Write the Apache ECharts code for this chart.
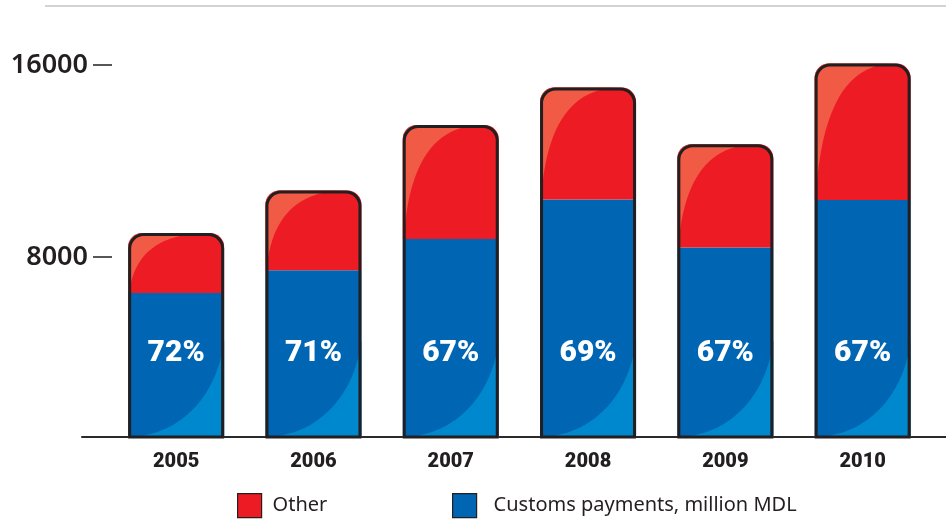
<!DOCTYPE html>
<html>
<head>
<meta charset="utf-8">
<script src="https://cdn.jsdelivr.net/npm/echarts@6/dist/echarts.min.js"></script>
<style>
  html, body { margin: 0; padding: 0; background: #ffffff; }
  #chart { width: 946px; height: 524px; }
</style>
</head>
<body>
<div id="chart"></div>
<script>
// ---- data ----
const years = ['2005', '2006', '2007', '2008', '2009', '2010'];
const customs = [6500, 7450, 8750, 10400, 8400, 10370];   // Customs payments, million MDL
const other = [2500, 3320, 4750, 4660, 4300, 5690];       // Other
const shares = [72, 71, 67, 69, 67, 67];                  // printed share of customs, %
const yTicks = [8000, 16000];
const seriesNames = ['Other', 'Customs payments, million MDL'];

// ---- style constants ----
const Y_MIN = 500, Y_MAX = 16500;
const BAR_W = 96, RAD = 14;
const RED = '#ed1c24', RED_HI = '#f15a45';
const BLUE = '#0066b3', BLUE_HI = '#0088cf';
const INK = '#231f20';
const COND = 'Roboto, "Liberation Sans", sans-serif';

const totals = customs.map((c, i) => c + other[i]);

function cubic(p0, p1, p2, p3, t) {
  const u = 1 - t;
  return [
    u*u*u*p0[0] + 3*u*u*t*p1[0] + 3*u*t*t*p2[0] + t*t*t*p3[0],
    u*u*u*p0[1] + 3*u*u*t*p1[1] + 3*u*t*t*p2[1] + t*t*t*p3[1]
  ];
}

function renderHighlights(params, api) {
  const i = api.value(0), c = api.value(1), t = api.value(2);
  const top = api.coord([i, t]);
  const mid = api.coord([i, c]);
  const base = api.coord([i, Y_MIN]);
  const cx = top[0];
  const L = cx - BAR_W / 2, R = cx + BAR_W / 2;
  const yt = top[1], ym = mid[1], yb = base[1];
  const H = ym - yt;

  // red gloss (upper-left)
  const red = [[L, ym], [L, yt + RAD]];
  for (let k = 1; k <= 10; k++) {
    const a = Math.PI + (Math.PI / 2) * k / 10;
    red.push([L + RAD + RAD * Math.cos(a), yt + RAD + RAD * Math.sin(a)]);
  }
  const r0 = [L + 1, ym], r1 = [L + 6, yt + 0.3 * H], r2 = [L + 34, yt + 1], r3 = [L + 78, yt];
  for (let k = 24; k >= 0; k--) red.push(cubic(r0, r1, r2, r3, k / 24));

  // blue gloss (lower-right)
  const b0 = [R, yb - 97], b1 = [R - 6, yb - 45], b2 = [R - 40, yb - 3], b3 = [L + 3, yb];
  const blue = [];
  for (let k = 0; k <= 24; k++) blue.push(cubic(b0, b1, b2, b3, k / 24));
  blue.push([R, yb]);

  return {
    type: 'group',
    children: [
      { type: 'polygon', shape: { points: red }, style: { fill: RED_HI } },
      { type: 'polygon', shape: { points: blue }, style: { fill: BLUE_HI } }
    ]
  };
}

const chart = echarts.init(document.getElementById('chart'), null, { renderer: 'canvas' });

chart.setOption({
  animation: false,
  backgroundColor: '#ffffff',
  graphic: [
    { type: 'line', shape: { x1: 45, y1: 6, x2: 946, y2: 6 }, style: { stroke: '#c4c4c4', lineWidth: 1.5 }, silent: true }
  ],
  legend: [
    {
      data: [seriesNames[0]], left: 237, top: 493, padding: 0,
      itemWidth: 24, itemHeight: 24, icon: 'rect',
      itemStyle: { borderColor: INK, borderWidth: 1.2 },
      textStyle: { fontFamily: 'Noto Sans', fontSize: 20, color: INK, padding: [0, 0, 0, 6] },
      selectedMode: false
    },
    {
      data: [seriesNames[1]], left: 452, top: 493, padding: 0,
      itemWidth: 24, itemHeight: 24, icon: 'rect',
      itemStyle: { borderColor: INK, borderWidth: 1.2 },
      textStyle: { fontFamily: 'Noto Sans', fontSize: 20, color: INK, padding: [0, 0, 0, 12] },
      selectedMode: false
    }
  ],
  grid: [
    { left: 107.5, right: 14.7, top: 53, bottom: 87 },
    { left: 82, right: 0, top: 53, bottom: 87 }
  ],
  xAxis: [
    {
      type: 'category', gridIndex: 0, data: years,
      axisLine: { show: false }, axisTick: { show: false },
      axisLabel: {
        margin: 15, color: INK, fontFamily: COND,
        fontWeight: 900, fontSize: 20
      }
    },
    {
      type: 'value', gridIndex: 1, min: 0, max: 1,
      axisLine: { show: true, onZero: false, lineStyle: { color: '#2a2a2a', width: 2 } },
      axisTick: { show: false }, axisLabel: { show: false }, splitLine: { show: false }
    }
  ],
  yAxis: [
    {
      type: 'value', gridIndex: 0, min: Y_MIN, max: Y_MAX, offset: -4.5,
      axisLine: { show: false }, splitLine: { show: false },
      axisTick: { show: true, customValues: yTicks, length: 19, lineStyle: { color: INK, width: 1.5 } },
      axisLabel: {
        customValues: yTicks, margin: 24, color: INK,
        fontFamily: 'Noto Sans', fontSize: 27, fontWeight: 600,
        formatter: (v) => String(v)
      }
    },
    { type: 'value', gridIndex: 1, min: Y_MIN, max: Y_MAX, show: false }
  ],
  series: [
    {
      name: seriesNames[1], type: 'bar', stack: 'total', xAxisIndex: 0, yAxisIndex: 0,
      data: customs, barWidth: BAR_W, barGap: '-100%', z: 2,
      itemStyle: { color: BLUE }, silent: true
    },
    {
      name: seriesNames[0], type: 'bar', stack: 'total', xAxisIndex: 0, yAxisIndex: 0,
      data: other, barWidth: BAR_W, barGap: '-100%', z: 2,
      itemStyle: { color: RED, borderRadius: [RAD, RAD, 0, 0] }, silent: true
    },
    {
      name: 'gloss', type: 'custom', xAxisIndex: 0, yAxisIndex: 0, z: 3, clip: true, silent: true,
      encode: { x: 0, y: [1, 2] },
      data: years.map((y, i) => [i, customs[i], totals[i]]),
      renderItem: renderHighlights
    },
    {
      name: 'outline', type: 'bar', xAxisIndex: 0, yAxisIndex: 0,
      data: totals, barWidth: BAR_W, barGap: '-100%', z: 4, silent: true,
      itemStyle: { color: 'rgba(0,0,0,0)', borderColor: INK, borderWidth: 3, borderRadius: [RAD, RAD, 0, 0] },
      label: {
        show: true, position: 'insideBottom', distance: 70,
        formatter: (p) => shares[p.dataIndex] + '%',
        color: '#ffffff', fontFamily: COND, fontWeight: 900, fontSize: 30
      }
    }
  ]
});
</script>
</body>
</html>
